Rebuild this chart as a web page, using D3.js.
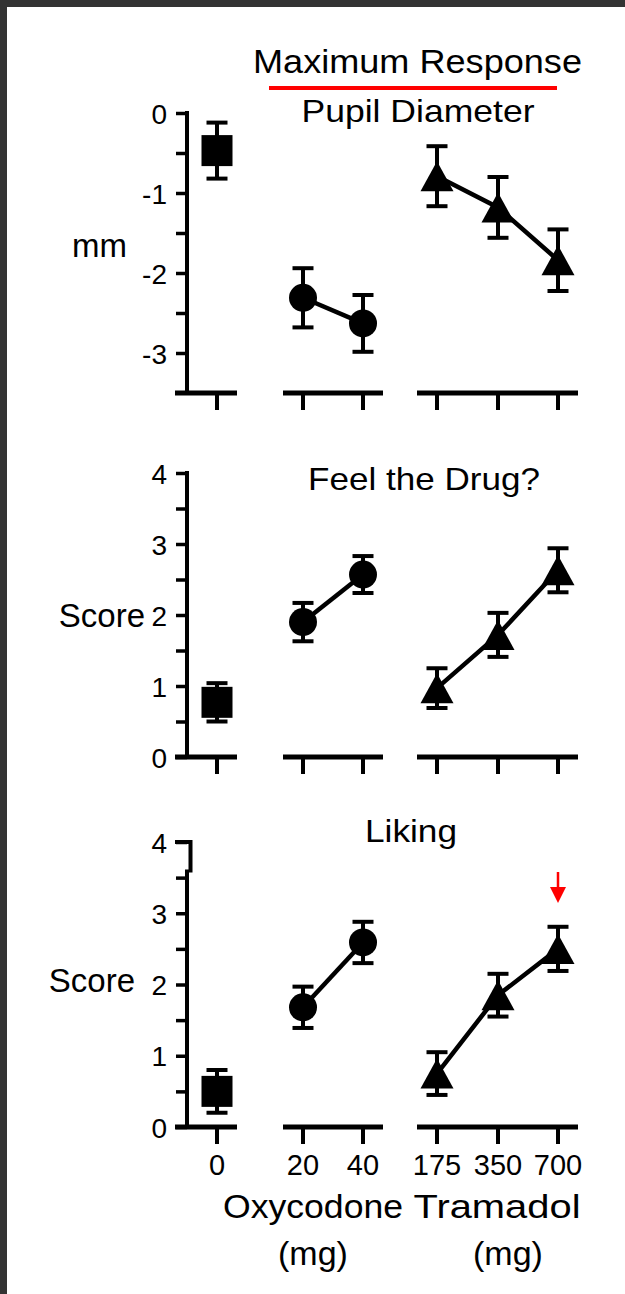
<!DOCTYPE html>
<html>
<head>
<meta charset="utf-8">
<script src="https://cdn.jsdelivr.net/npm/d3@7"></script>
<style>
  html, body { margin: 0; padding: 0; background: #333333; }
  svg { display: block; }
  text { font-family: "Liberation Sans", Arial, Helvetica, sans-serif; fill: #000; }
</style>
</head>
<body>
<script>
// Dose categories along the x axis (mg) and the drug group each belongs to
const doses = ["0", "20", "40", "175", "350", "700"];
const groups = [
  { name: "Placebo", doses: ["0"], shape: "square" },
  { name: "Oxycodone", doses: ["20", "40"], shape: "circle" },
  { name: "Tramadol", doses: ["175", "350", "700"], shape: "triangle" }
];

// Maximum response means and SEM, one value per dose
const pupilMean  = [-0.47, -2.31, -2.63, -0.79, -1.18, -1.84];
const pupilSem   = [0.35, 0.37, 0.355, 0.375, 0.38, 0.385];
const feelMean   = [0.77, 1.90, 2.57, 0.97, 1.72, 2.63];
const feelSem    = [0.27, 0.27, 0.26, 0.28, 0.31, 0.31];
const likingMean = [0.50, 1.68, 2.59, 0.75, 1.85, 2.50];
const likingSem  = [0.30, 0.29, 0.29, 0.30, 0.30, 0.31];

// Axis tick values
const pupilTicks = [0, -0.5, -1, -1.5, -2, -2.5, -3];
const scoreTicks = [0, 0.5, 1, 1.5, 2, 2.5, 3, 3.5, 4];

const W = 625, H = 1294;
const svg = d3.select("body").append("svg").attr("width", W).attr("height", H);

// white sheet inside the dark frame
svg.append("rect").attr("x", 7).attr("y", 7).attr("width", W - 7).attr("height", H - 7).attr("fill", "#fff");

const axisX = 187;
const x = d3.scaleOrdinal().domain(doses).range([217, 303, 363, 437, 498, 558]);

const panels = [
  { title: "Pupil Diameter", titleX: 418, titleY: 122, titleLen: 233,
    ylabel: "mm", ylabelX: 127, ylabelY: 257,
    domain: [-3.5, 0], range: [393, 113], ticks: pupilTicks,
    mean: pupilMean, sem: pupilSem, jog: false },
  { title: "Feel the Drug?", titleX: 424, titleY: 490, titleLen: 232,
    ylabel: "Score", ylabelX: 145, ylabelY: 627,
    domain: [0, 4], range: [757, 473], ticks: scoreTicks,
    mean: feelMean, sem: feelSem, jog: false },
  { title: "Liking", titleX: 411, titleY: 842, titleLen: 92,
    ylabel: "Score", ylabelX: 135, ylabelY: 992,
    domain: [0, 4], range: [1127, 842], ticks: scoreTicks,
    mean: likingMean, sem: likingSem, jog: true }
];

const triangle = d3.symbol().type({
  draw(ctx) { ctx.moveTo(0, -15); ctx.lineTo(16.5, 15); ctx.lineTo(-16.5, 15); ctx.closePath(); }
});

panels.forEach(p => {
  const y = d3.scaleLinear().domain(p.domain).range(p.range);
  const g = svg.append("g");
  const base = y(p.domain[0]);
  const top = y(p.domain[1]);

  // y axis ticks and labels
  const ax = g.append("g").attr("transform", `translate(${axisX},0)`)
    .attr("font-family", null).attr("font-size", null)
    .call(d3.axisLeft(y).tickValues(p.ticks).tickSize(11).tickPadding(9)
      .tickFormat(d => Number.isInteger(d) ? String(d) : ""));
  ax.select(".domain").remove();
  ax.selectAll(".tick line").attr("stroke", "#000").attr("stroke-width", 3.5);
  ax.selectAll(".tick text").style("font-size", "28px").attr("fill", "#000").attr("dy", "0.36em");

  // vertical axis line
  if (p.jog) {
    const yj = y(3.6);
    g.append("path").attr("fill", "none").attr("stroke", "#000").attr("stroke-width", 4)
      .attr("stroke-linejoin", "miter")
      .attr("d", `M${axisX - 12},${top} H${axisX + 3.5} V${yj + 2}`);
    g.append("line").attr("x1", axisX).attr("x2", axisX).attr("y1", yj - 1).attr("y2", base)
      .attr("stroke", "#000").attr("stroke-width", 4);
  } else {
    g.append("line").attr("x1", axisX).attr("x2", axisX).attr("y1", top - 2).attr("y2", base)
      .attr("stroke", "#000").attr("stroke-width", 4);
  }

  // broken x axis: one segment per drug group
  groups.forEach((grp, gi) => {
    const xs = grp.doses.map(d => x(d));
    const x0 = gi === 0 ? axisX - 12 : d3.min(xs) - 20;
    const x1 = d3.max(xs) + 20;
    g.append("line").attr("x1", x0).attr("x2", x1).attr("y1", base).attr("y2", base)
      .attr("stroke", "#000").attr("stroke-width", 5);
    g.selectAll(null).data(xs).join("line")
      .attr("x1", d => d).attr("x2", d => d).attr("y1", base).attr("y2", base + 17)
      .attr("stroke", "#000").attr("stroke-width", 4);
  });

  // y axis title
  g.append("text").attr("x", p.ylabelX).attr("y", p.ylabelY).attr("text-anchor", "end")
    .style("font-size", "33px").text(p.ylabel);

  // panel title
  g.append("text").attr("x", p.titleX).attr("y", p.titleY).attr("text-anchor", "middle")
    .attr("textLength", p.titleLen).attr("lengthAdjust", "spacingAndGlyphs")
    .style("font-size", "32px").text(p.title);

  groups.forEach(grp => {
    const pts = grp.doses.map(d => {
      const i = doses.indexOf(d);
      return { x: x(d), m: p.mean[i], s: p.sem[i] };
    });

    // connecting line
    if (pts.length > 1) {
      g.append("path").attr("fill", "none").attr("stroke", "#000").attr("stroke-width", 4.5)
        .attr("d", d3.line().x(d => d.x).y(d => y(d.m))(pts));
    }

    // error bars with caps
    const eb = g.selectAll(null).data(pts).join("g");
    eb.append("line").attr("x1", d => d.x).attr("x2", d => d.x)
      .attr("y1", d => y(d.m + d.s)).attr("y2", d => y(d.m - d.s))
      .attr("stroke", "#000").attr("stroke-width", 4);
    eb.append("line").attr("x1", d => d.x - 10.5).attr("x2", d => d.x + 10.5)
      .attr("y1", d => y(d.m + d.s)).attr("y2", d => y(d.m + d.s))
      .attr("stroke", "#000").attr("stroke-width", 4);
    eb.append("line").attr("x1", d => d.x - 10.5).attr("x2", d => d.x + 10.5)
      .attr("y1", d => y(d.m - d.s)).attr("y2", d => y(d.m - d.s))
      .attr("stroke", "#000").attr("stroke-width", 4);

    // markers
    const mk = g.selectAll(null).data(pts).join("g")
      .attr("transform", d => `translate(${d.x},${y(d.m)})`);
    if (grp.shape === "square") {
      mk.append("rect").attr("x", -15.5).attr("y", -15.5).attr("width", 31).attr("height", 31).attr("fill", "#000");
    } else if (grp.shape === "circle") {
      mk.append("circle").attr("r", 14).attr("fill", "#000");
    } else {
      mk.append("path").attr("d", triangle()).attr("fill", "#000");
    }
  });
});

// overall heading with red rule
svg.append("text").attr("x", 417.5).attr("y", 73).attr("text-anchor", "middle")
  .attr("textLength", 329).attr("lengthAdjust", "spacingAndGlyphs")
  .style("font-size", "33px").text("Maximum Response");
svg.append("line").attr("x1", 269).attr("x2", 557).attr("y1", 88).attr("y2", 88)
  .attr("stroke", "#ff0000").attr("stroke-width", 4);

// red arrow over the highest tramadol dose in the liking panel
const ax700 = x("700");
svg.append("line").attr("x1", ax700).attr("x2", ax700).attr("y1", 872).attr("y2", 890)
  .attr("stroke", "#ff0000").attr("stroke-width", 2.5);
svg.append("path").attr("fill", "#ff0000")
  .attr("d", `M${ax700 - 8},887 L${ax700 + 8},887 L${ax700},903 Z`);

// dose labels and drug names under the last panel
svg.selectAll(null).data(doses).join("text")
  .attr("x", d => x(d)).attr("y", 1175).attr("text-anchor", "middle")
  .style("font-size", "29px").text(d => d);

const drugLabels = [
  { name: "Oxycodone", cx: 313, len: 180, unitX: 313 },
  { name: "Tramadol", cx: 497, len: 167, unitX: 508 }
];
svg.selectAll(null).data(drugLabels).join("text")
  .attr("x", d => d.cx).attr("y", 1218).attr("text-anchor", "middle")
  .attr("textLength", d => d.len).attr("lengthAdjust", "spacingAndGlyphs")
  .style("font-size", "34px").text(d => d.name);
svg.selectAll(null).data(drugLabels).join("text")
  .attr("x", d => d.unitX).attr("y", 1265).attr("text-anchor", "middle")
  .style("font-size", "34px").text("(mg)");
</script>
</body>
</html>
